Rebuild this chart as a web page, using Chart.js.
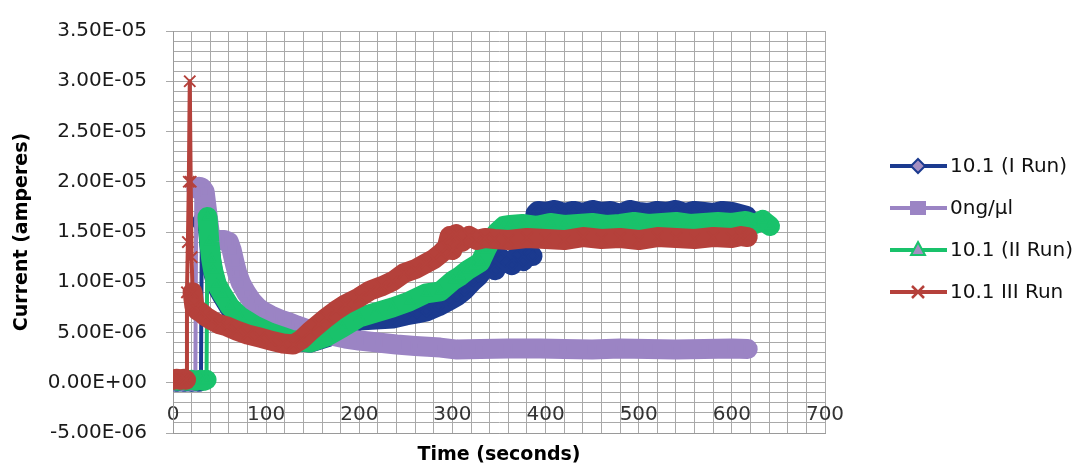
<!DOCTYPE html>
<html>
<head>
<meta charset="utf-8">
<script src="https://cdn.jsdelivr.net/npm/chart.js@4/dist/chart.umd.min.js"></script>
<style>
  html, body { margin: 0; padding: 0; background: #fff; }
  #wrap { width: 1084px; height: 468px; }
</style>
</head>
<body>
<div id="wrap"><canvas id="chart" width="1084" height="468"></canvas></div>
<script>
// ── Data (current in microamps, time in seconds) ──
const seriesNames = ['10.1 (I Run)', '0ng/\u00b5l', '10.1 (II Run)', '10.1 III Run'];

const run1Time = [0, 4, 8, 12, 16, 20, 24, 28, 30, 31, 37, 39, 41, 43, 47, 53, 61, 72, 88, 104, 126, 147, 165, 182, 200, 218, 236, 250, 262, 272, 285, 297, 305, 313, 322, 328, 334, 340, 346, 352, 358, 364, 370, 376, 382, 386, 389, 392, 400, 410, 420, 430, 440, 450, 460, 470, 480, 490, 500, 510, 520, 530, 540, 550, 560, 570, 580, 590, 600, 608, 616];
const run1Current = [0.2, 0.1, 0.2, 0.1, 0.2, 0.1, 0.2, 0.1, 0.2, 16.0, 16.0, 13.8, 12.1, 11.0, 9.6, 8.6, 7.4, 6.4, 5.5, 4.8, 4.2, 4.0, 4.5, 5.3, 6.2, 6.3, 6.4, 6.7, 6.9, 7.1, 7.6, 8.2, 8.6, 9.2, 10.1, 10.6, 11.3, 11.7, 11.2, 12.4, 12.0, 11.7, 12.7, 12.1, 13.0, 12.6, 16.8, 17.1, 17.0, 17.2, 16.9, 17.1, 16.9, 17.2, 17.0, 17.1, 16.8, 17.2, 17.0, 16.9, 17.1, 17.0, 17.2, 16.9, 17.1, 17.0, 16.9, 17.1, 17.0, 16.8, 16.6];

const blankTime = [0, 5, 10, 15, 20, 24, 25, 28, 31, 34, 36, 38, 40, 45, 50, 55, 60, 63, 66, 69, 73, 79, 85, 91, 97, 105, 115, 125, 133, 142, 150, 160, 170, 185, 200, 220, 240, 260, 287, 305, 330, 360, 394, 420, 450, 480, 510, 540, 570, 600, 617];
const blankCurrent = [0.2, 0.3, 0.2, 0.3, 0.2, 0.3, 19.3, 19.5, 19.4, 19.0, 17.5, 16.0, 14.5, 14.2, 14.2, 14.2, 14.0, 13.2, 12.0, 10.9, 9.9, 8.9, 8.1, 7.5, 7.1, 6.7, 6.3, 6.0, 5.7, 5.4, 5.2, 4.9, 4.7, 4.4, 4.2, 4.0, 3.8, 3.65, 3.5, 3.3, 3.35, 3.4, 3.4, 3.35, 3.3, 3.4, 3.35, 3.3, 3.35, 3.4, 3.35];

const run2Time = [0, 5, 10, 15, 20, 25, 30, 33, 36, 37, 39, 41, 43, 47, 53, 61, 72, 88, 104, 126, 147, 165, 182, 200, 218, 236, 254, 272, 287, 301, 308, 316, 323, 330, 336, 342, 348, 355, 362, 375, 390, 405, 420, 435, 450, 465, 480, 495, 510, 525, 540, 555, 570, 585, 600, 615, 625, 633, 641];
const run2Current = [0.3, 0.2, 0.3, 0.2, 0.3, 0.2, 0.3, 0.2, 0.3, 16.5, 14.0, 12.3, 11.2, 9.8, 8.8, 7.6, 6.6, 5.7, 5.0, 4.3, 4.0, 4.6, 5.5, 6.5, 7.0, 7.5, 8.1, 8.9, 9.1, 10.2, 10.6, 11.2, 11.6, 12.0, 13.2, 14.3, 15.0, 15.6, 15.7, 15.8, 15.6, 15.9, 15.7, 15.8, 15.9, 15.7, 15.8, 16.0, 15.8, 15.9, 16.0, 15.8, 15.9, 16.0, 15.9, 16.1, 15.8, 16.2, 15.6];

const run3Time = [0, 4, 8, 12, 14, 15, 16, 17, 18, 19, 20, 21, 23, 26, 30, 35, 42, 50, 58, 68, 80, 93, 105, 118, 129, 138, 147, 156, 165, 175, 185, 200, 212, 224, 236, 248, 260, 272, 280, 288, 294, 297, 300, 304, 310, 318, 326, 335, 345, 360, 380, 400, 420, 440, 460, 480, 500, 520, 540, 560, 580, 600, 610, 617];
const run3Current = [0.3, 0.4, 0.3, 0.4, 0.3, 9.0, 14.0, 20.0, 30.0, 20.0, 12.5, 9.0, 7.6, 7.2, 7.0, 6.6, 6.2, 5.8, 5.6, 5.2, 4.8, 4.5, 4.2, 3.9, 3.8, 4.3, 5.1, 5.8, 6.5, 7.2, 7.8, 8.5, 9.2, 9.6, 10.1, 10.9, 11.3, 11.9, 12.3, 12.9, 13.5, 14.6, 13.2, 14.8, 14.0, 14.6, 14.2, 14.4, 14.3, 14.2, 14.4, 14.3, 14.2, 14.5, 14.3, 14.4, 14.2, 14.5, 14.4, 14.3, 14.5, 14.4, 14.6, 14.5];

// axis ranges (current axis in microamps, labelled in amperes)
const yMin = -5, yMax = 35, yMinorStep = 1, yMajorStep = 5;
const xMin = 0, xMax = 700, xMinorStep = 20, xMajorStep = 100;

// ── Colours ──
const NAVY = '#1b3a8f';
const LAVENDER = '#9b84c4';
const GREEN = '#19c26b';
const RED = '#b5413b';
const MAUVE = '#a58fc2';
const GRID = '#a9a9a9';

// ── Helpers ──
function toPoints(xs, ys) {
  return xs.map((x, i) => ({ x: x, y: ys[i] }));
}

// 35 (microamps) -> "3.50E-05"
function sciLabel(microAmps) {
  if (Math.abs(microAmps) < 1e-9) return '0.00E+00';
  const e = Math.floor(Math.log10(Math.abs(microAmps)));
  const mant = microAmps / Math.pow(10, e);
  const exp = e - 6;
  const sign = exp < 0 ? '-' : '+';
  return mant.toFixed(2) + 'E' + sign + String(Math.abs(exp)).padStart(2, '0');
}

function isMultiple(v, step) {
  const r = v / step;
  return Math.abs(r - Math.round(r)) < 1e-6;
}

// vertical jumps are drawn thin, the noisy runs as a thick band
function segWidth(ctx) {
  const dx = Math.abs(ctx.p1.x - ctx.p0.x);
  const dy = Math.abs(ctx.p1.y - ctx.p0.y);
  return (dy > 30 && dy > 4 * dx) ? 4 : 20;
}

function makeSeries(label, xs, ys, color, pointStyle, order) {
  return {
    label: label,
    data: toPoints(xs, ys),
    borderColor: color,
    backgroundColor: color,
    pointStyle: pointStyle,
    pointRadius: pointStyle === 'crossRot' ? 8 : 5,
    pointBorderWidth: 2,
    pointBackgroundColor: color,
    pointBorderColor: color,
    borderWidth: 20,
    borderJoinStyle: 'round',
    borderCapStyle: 'round',
    tension: 0,
    fill: false,
    order: order,
    segment: { borderWidth: segWidth }
  };
}

// ── Legend drawn like the spreadsheet one ──
const sideLegend = {
  id: 'sideLegend',
  afterDraw(chart) {
    const ctx = chart.ctx;
    const items = [
      { label: seriesNames[0], color: NAVY, fill: MAUVE, mark: 'diamond' },
      { label: seriesNames[1], color: LAVENDER, fill: LAVENDER, mark: 'square' },
      { label: seriesNames[2], color: GREEN, fill: MAUVE, mark: 'triangle' },
      { label: seriesNames[3], color: RED, fill: RED, mark: 'cross' }
    ];
    const x0 = 890, x1 = 947, mx = 918;
    ctx.save();
    items.forEach((it, i) => {
      const y = 166 + i * 42;
      ctx.strokeStyle = it.color;
      ctx.lineWidth = 4;
      ctx.beginPath();
      ctx.moveTo(x0, y);
      ctx.lineTo(x1, y);
      ctx.stroke();

      ctx.fillStyle = it.fill;
      ctx.strokeStyle = it.color;
      ctx.lineWidth = 2;
      ctx.beginPath();
      if (it.mark === 'diamond') {
        ctx.moveTo(mx, y - 7); ctx.lineTo(mx + 7, y); ctx.lineTo(mx, y + 7); ctx.lineTo(mx - 7, y);
        ctx.closePath(); ctx.fill(); ctx.stroke();
      } else if (it.mark === 'square') {
        ctx.rect(mx - 7, y - 6, 14, 12); ctx.fill(); ctx.stroke();
      } else if (it.mark === 'triangle') {
        ctx.moveTo(mx, y - 8); ctx.lineTo(mx + 7, y + 5); ctx.lineTo(mx - 7, y + 5);
        ctx.closePath(); ctx.fill(); ctx.stroke();
      } else {
        ctx.lineWidth = 2.5;
        ctx.moveTo(mx - 6, y - 6); ctx.lineTo(mx + 6, y + 6);
        ctx.moveTo(mx + 6, y - 6); ctx.lineTo(mx - 6, y + 6);
        ctx.stroke();
      }

      ctx.fillStyle = '#111';
      ctx.font = '20px "DejaVu Sans"';
      ctx.textAlign = 'left';
      ctx.textBaseline = 'middle';
      ctx.fillText(it.label, 950, y + 1);
    });
    ctx.restore();
  }
};

// ── Chart ──
new Chart(document.getElementById('chart'), {
  type: 'line',
  data: {
    datasets: [
      makeSeries(seriesNames[0], run1Time, run1Current, NAVY, 'rectRot', 3),
      makeSeries(seriesNames[1], blankTime, blankCurrent, LAVENDER, 'rect', 2),
      makeSeries(seriesNames[2], run2Time, run2Current, GREEN, 'triangle', 1),
      makeSeries(seriesNames[3], run3Time, run3Current, RED, 'crossRot', 0)
    ]
  },
  options: {
    responsive: false,
    devicePixelRatio: 1,
    animation: false,
    events: [],
    layout: { padding: { top: 19, right: 259, bottom: 35, left: 0 } },
    plugins: { legend: { display: false }, tooltip: { enabled: false } },
    scales: {
      x: {
        type: 'linear',
        position: { y: yMin },
        min: xMin, max: xMax,
        afterFit: s => { s.height = 35; },
        ticks: {
          stepSize: xMinorStep, autoSkip: false, maxRotation: 0,
          padding: -30,
          color: '#333',
          font: { family: 'DejaVu Sans', size: 20 },
          callback: v => isMultiple(v, xMajorStep) ? String(Math.round(v)) : ''
        },
        grid: { color: GRID, lineWidth: 1, drawTicks: false },
        border: { color: '#9a9a9a' },
        title: {
          display: true, text: 'Time (seconds)', color: '#000',
          font: { family: 'DejaVu Sans', size: 19, weight: 'bold' },
          padding: { top: 0, bottom: 2 }
        }
      },
      y: {
        type: 'linear',
        min: yMin, max: yMax,
        afterFit: s => { s.width = 173; },
        ticks: {
          stepSize: yMinorStep, autoSkip: false,
          padding: 19,
          color: '#1a1a1a',
          font: { family: 'DejaVu Sans', size: 20 },
          callback: v => isMultiple(v, yMajorStep) ? sciLabel(v) : ''
        },
        grid: {
          color: GRID, lineWidth: 1, tickLength: 7,
          tickColor: c => (c.tick && isMultiple(c.tick.value, yMajorStep)) ? GRID : 'rgba(0,0,0,0)'
        },
        border: { color: '#9a9a9a' },
        title: {
          display: true, text: 'Current (amperes)', color: '#000',
          font: { family: 'DejaVu Sans', size: 19, weight: 'bold' },
          padding: { top: 11, bottom: 0 }
        }
      }
    }
  },
  plugins: [sideLegend]
});
</script>
</body>
</html>
